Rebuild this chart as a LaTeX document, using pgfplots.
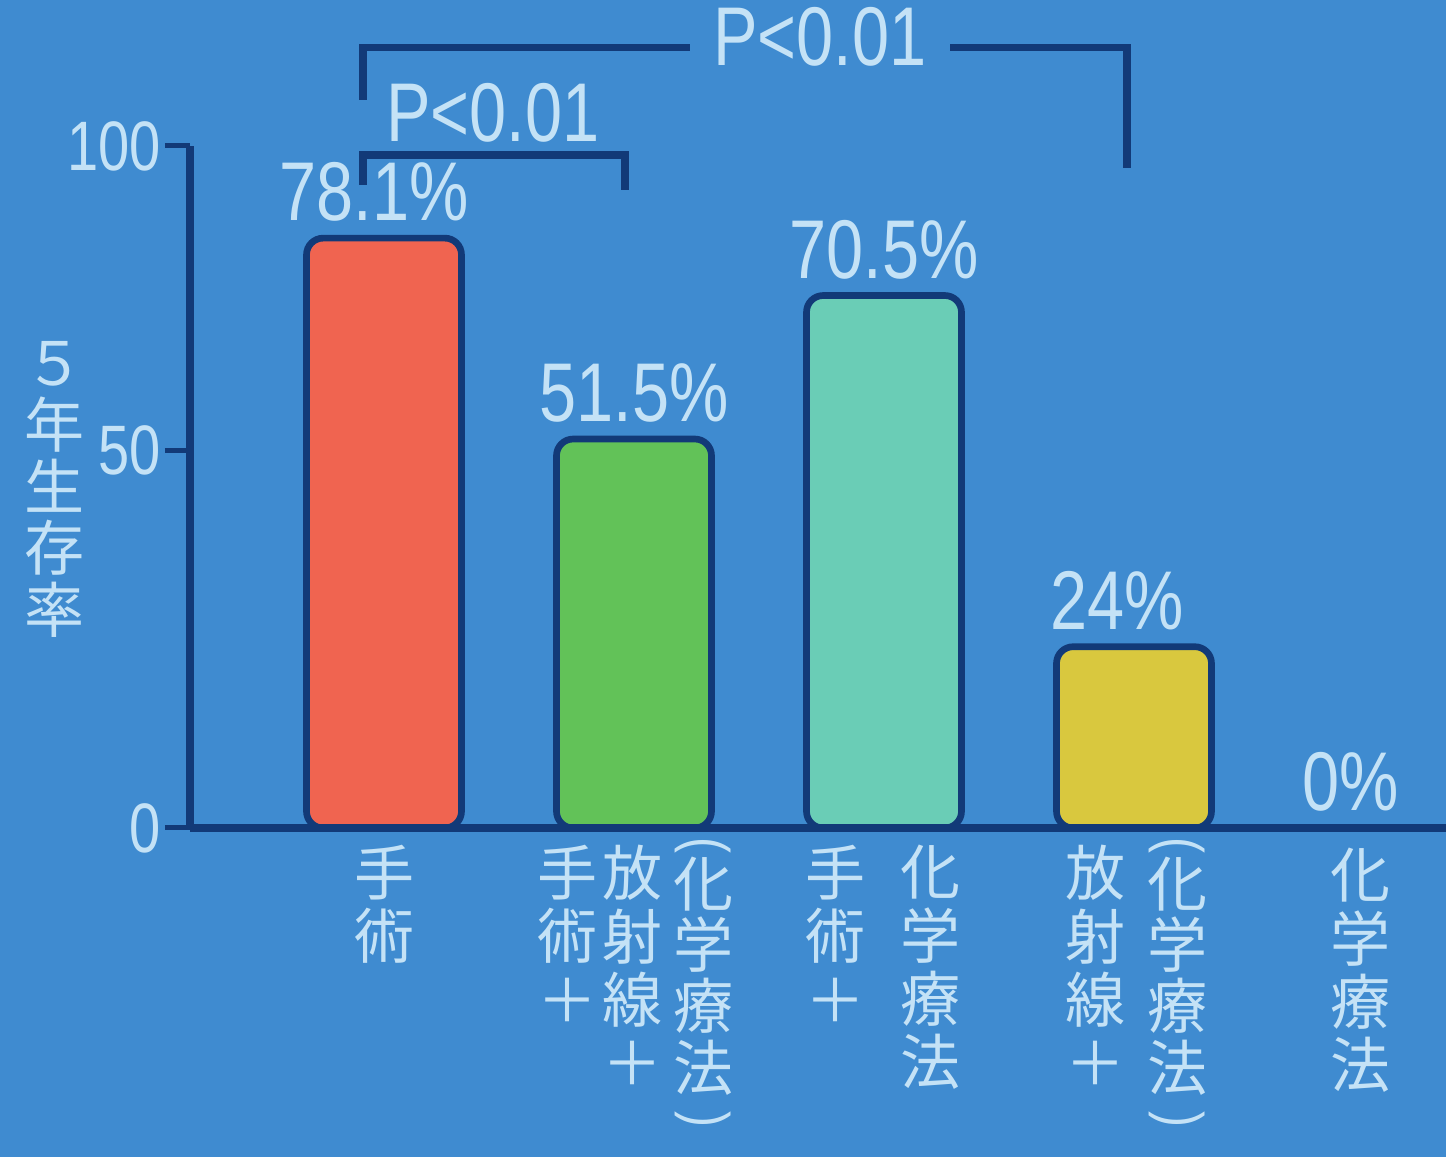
\documentclass[border=0pt]{standalone}
\usepackage{fontspec}
\usepackage{pgfplots}
\pgfplotsset{compat=1.18}
\setmainfont{Liberation Sans}
\newfontfamily\lcd{Liberation Sans}[FakeStretch=0.8]
\newfontfamily\cjk{Noto Sans CJK JP}
\definecolor{bg}{HTML}{3F8BD0}
\definecolor{navy}{HTML}{123A78}
\definecolor{txt}{HTML}{C4E2F6}
\definecolor{cred}{HTML}{F06450}
\definecolor{cgreen}{HTML}{62C258}
\definecolor{cteal}{HTML}{6ACDB6}
\definecolor{cyellow}{HTML}{D9C83E}
% vertical-writing parentheses
\newcommand\vop{\raisebox{0.45em}{\rotatebox{-90}{\lcd(}}}
\newcommand\vcl{\raisebox{0.45em}{\rotatebox{-90}{\lcd)}}}
\begin{document}
\begin{tikzpicture}
\path[use as bounding box, fill=bg] (0,0) rectangle (433.8pt,347.1pt);
\begin{axis}[
  at={(57pt,98.7pt)}, anchor=south west,
  scale only axis, width=376.8pt, height=204.6pt,
  xmin=-0.776, xmax=4.248, ymin=0, ymax=90.3,
  axis x line=bottom, axis y line=left,
  axis line style={navy, line width=2.4pt, -},
  xtick=\empty,
  ytick={0,50,90.3}, yticklabels={0,50,100},
  tick align=outside, major tick length=7.5pt,
  ytick style={navy, line width=1.5pt},
  yticklabel style={font=\lcd\fontsize{21}{21}\selectfont, text=txt, inner sep=1pt},
  /pgf/number format/assume math mode=true,
  axis on top, clip=false,
  ybar, bar width=0.62, bar shift=0pt,
  every axis plot/.append style={draw=navy, line width=2pt, rounded corners=5pt},
  nodes near coords={\pgfmathprintnumber{\pgfplotspointmeta}\%},
  every node near coord/.append style={font=\lcd\fontsize{25}{25}\selectfont,
    text=txt, inner sep=0pt, anchor=south, yshift=4pt},
]
\addplot[fill=cred, every node near coord/.append style={xshift=-3pt}] coordinates {(0,78.1)};
\addplot[fill=cgreen] coordinates {(1,51.5)};
\addplot[fill=cteal] coordinates {(2,70.5)};
\addplot[fill=cyellow, every node near coord/.append style={xshift=-5pt}] coordinates {(3,24)};
\addplot[fill=bg, draw=none, every node near coord/.append style={xshift=-10pt}] coordinates {(4,0)};

% significance brackets
\draw[navy, line width=2.2pt] (axis cs:-0.084,96.4) -- (axis cs:-0.084,103.3) -- (axis cs:1.224,103.3);
\draw[navy, line width=2.2pt] (axis cs:2.264,103.3) -- (axis cs:2.972,103.3) -- (axis cs:2.972,87.4);
\draw[navy, line width=2.2pt] (axis cs:-0.084,85.2) -- (axis cs:-0.084,89.1) -- (axis cs:0.964,89.1) -- (axis cs:0.964,84.5);
\node[font=\lcd\fontsize{25}{25}\selectfont, text=txt] at (axis cs:1.744,104.8) {P<0.01};
\node[font=\lcd\fontsize{25}{25}\selectfont, text=txt] at (axis cs:0.436,94.7) {P<0.01};

% y label
\node[font=\cjk\fontsize{18}{18.5}\selectfont, text=txt, align=center, inner sep=0pt]
  at (axis cs:-1.316,44.8) {５\\年\\生\\存\\率};

% vertical category labels
\tikzset{vl/.style={font=\cjk\fontsize{18}{19}\selectfont, text=txt, anchor=north, align=center, inner sep=0pt},
  vp/.style={vl, font=\cjk\fontsize{18}{18.4}\selectfont}}
\node[vl] at (axis cs:0,-2.2) {手\\術};
\node[vl] at (axis cs:0.732,-2.2) {手\\術\\＋};
\node[vl] at (axis cs:0.992,-2.2) {放\\射\\線\\＋};
\node[vp] at (axis cs:1.276,-1.2) {\vop\\[-6pt]化\\学\\療\\法\\[-4pt]\vcl};
\node[vl] at (axis cs:1.804,-2.2) {手\\術\\＋};
\node[vl] at (axis cs:2.184,-2.2) {化\\学\\療\\法};
\node[vl] at (axis cs:2.844,-2.2) {放\\射\\線\\＋};
\node[vp] at (axis cs:3.172,-1.2) {\vop\\[-6pt]化\\学\\療\\法\\[-4pt]\vcl};
\node[vl] at (axis cs:3.904,-2.6) {化\\学\\療\\法};
\end{axis}
\end{tikzpicture}
\end{document}
